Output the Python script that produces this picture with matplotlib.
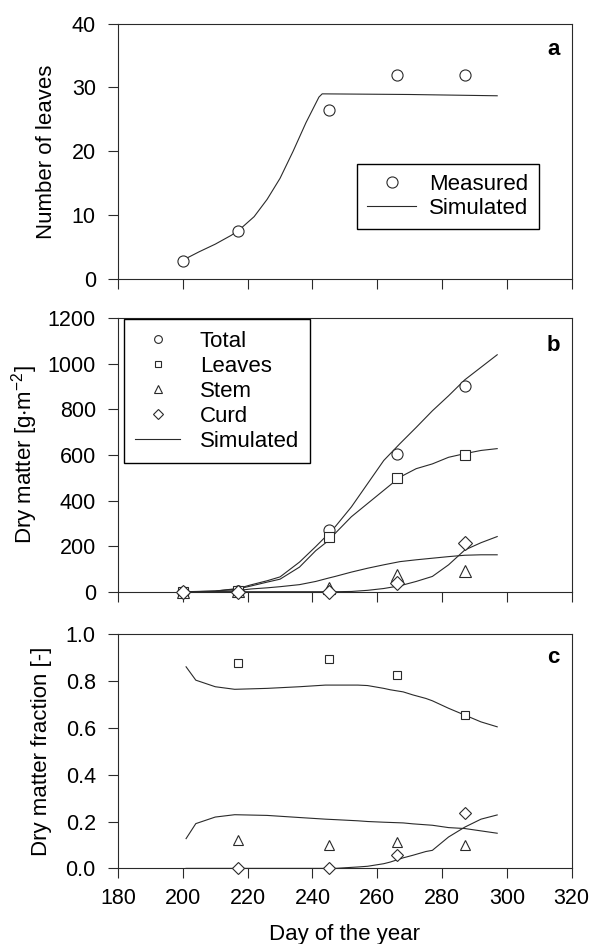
import matplotlib
matplotlib.use("Agg")
import matplotlib.pyplot as plt

plt.rcParams["font.family"] = ["Liberation Sans", "DejaVu Sans"]
plt.rcParams["mathtext.default"] = "regular"

# measurement days
days = [200, 217, 245, 266, 287]

# (a) number of leaves
n_leaves = [2.8, 7.5, 26.5, 32.0, 32.0]
sim_a_days = [200, 205, 210, 215, 218, 222, 226, 230, 234, 238, 242, 243, 270, 297]
sim_a = [3.0, 4.3, 5.5, 6.9, 8.0, 9.8, 12.5, 15.8, 20.0, 24.5, 28.5, 29.0, 28.9, 28.7]

# (b) dry matter, g m-2
dm_total = [0, 5, 270, 605, 905]
dm_leaves = [0, 5, 240, 500, 598]
dm_stem = [0, 5, 15, 74, 92]
dm_curd = [0, 0, 0, 40, 212]
sim_b_days = [200, 205, 210, 217, 221, 226, 230, 236, 241, 245, 247, 252,
              257, 262, 267, 272, 277, 282, 287, 292, 297]
sim_total = [0, 1, 3, 14, 30, 48, 65, 130, 198, 255, 285, 372, 474, 576,
             650, 721, 794, 860, 930, 985, 1040]
sim_leaves = [0, 1, 3, 12, 25, 42, 55, 108, 180, 225, 256, 329, 387, 445,
              503, 540, 561, 590, 606, 620, 628]
sim_stem = [0, 0, 1, 5, 12, 17, 22, 31, 45, 60, 67, 86, 103, 118, 132, 140,
            147, 154, 160, 162, 162]
sim_curd = [0, 0, 0, 0, 0, 0, 0, 0, 0, 0, 0, 1, 6, 14, 26, 45, 67, 118, 183,
            215, 242]

# (c) dry matter fraction
fr_days = [217, 245, 266, 287]
fr_leaves = [0.875, 0.893, 0.825, 0.655]
fr_stem = [0.12, 0.098, 0.112, 0.098]
fr_curd = [0.0, 0.0, 0.056, 0.238]
sim_c_days = [201, 204, 210, 216, 226, 236, 244, 247, 254, 257, 262, 264,
              268, 271, 275, 277, 282, 287, 292, 297]
sim_fl = [0.86, 0.803, 0.775, 0.764, 0.768, 0.775, 0.782, 0.782, 0.782,
          0.78, 0.768, 0.762, 0.753, 0.74, 0.725, 0.715, 0.683, 0.654, 0.625, 0.604]
sim_fs = [0.127, 0.191, 0.219, 0.229, 0.226, 0.217, 0.21, 0.208, 0.203,
          0.2, 0.197, 0.196, 0.194, 0.19, 0.186, 0.184, 0.174, 0.17, 0.16, 0.15]
sim_fc = [0.0, 0.0, 0.0, 0.0, 0.0, 0.0, 0.0, 0.0, 0.006, 0.009, 0.02, 0.027,
          0.045, 0.056, 0.072, 0.077, 0.134, 0.176, 0.21, 0.228]

LC = "#2a2a2a"
TICK_FS = 15.5
LAB_FS = 16

fig = plt.figure(figsize=(5.94, 9.44), dpi=100)
L, W = 0.1987, 0.7638
ax_a = fig.add_axes([L, 0.7041, W, 0.2710])
ax_b = fig.add_axes([L, 0.3732, W, 0.2896])
ax_c = fig.add_axes([L, 0.0801, W, 0.2483])

mk = dict(ls="none", mfc="white", mec=LC, mew=0.8, clip_on=False, zorder=3)

# panel a
ax_a.plot(sim_a_days, sim_a, color=LC, lw=0.8, label="Simulated")
ax_a.plot(days, n_leaves, "o", ms=8, label="Measured", **mk)
ax_a.set_ylim(0, 40)
ax_a.set_yticks([0, 10, 20, 30, 40])
h, l = ax_a.get_legend_handles_labels()
ax_a.legend(h[::-1], l[::-1], loc="upper left", bbox_to_anchor=(0.527, 0.452),
            borderaxespad=0, fancybox=False, edgecolor="black", framealpha=1,
            fontsize=LAB_FS, handlelength=2.2, handletextpad=0.6,
            labelspacing=0.15, borderpad=0.45, numpoints=1)

# panel b
ax_b.plot(days, dm_total, "o", ms=8, label="Total", **mk)
ax_b.plot(days, dm_leaves, "s", ms=7, label="Leaves", **mk)
ax_b.plot(days, dm_stem, "^", ms=8, label="Stem", **mk)
ax_b.plot(days, dm_curd, "D", ms=7, label="Curd", **mk)
ax_b.plot(sim_b_days, sim_total, color=LC, lw=0.8, label="Simulated")
for s in (sim_leaves, sim_stem, sim_curd):
    ax_b.plot(sim_b_days, s, color=LC, lw=0.8)
ax_b.set_ylim(0, 1200)
ax_b.set_yticks(range(0, 1201, 200))
ax_b.legend(loc="upper left", bbox_to_anchor=(0.014, 0.996), borderaxespad=0,
            fancybox=False, edgecolor="black", framealpha=1, fontsize=LAB_FS,
            handlelength=2.0, handletextpad=0.9, labelspacing=0.18,
            borderpad=0.5, markerscale=0.7, numpoints=1)

# panel c
ax_c.plot(sim_c_days, sim_fl, color=LC, lw=0.8)
ax_c.plot(sim_c_days, sim_fs, color=LC, lw=0.8)
ax_c.plot(sim_c_days, sim_fc, color=LC, lw=0.8)
ax_c.plot(fr_days, fr_leaves, "s", ms=6, **mk)
ax_c.plot(fr_days, fr_stem, "^", ms=7.5, **mk)
ax_c.plot(fr_days, fr_curd, "D", ms=6.5, **mk)
ax_c.set_ylim(0, 1.0)
ax_c.set_yticks([0.0, 0.2, 0.4, 0.6, 0.8, 1.0])
ax_c.set_yticklabels([f"{v:.1f}" for v in ax_c.get_yticks()])
ax_c.set_xlabel("Day of the year", fontsize=LAB_FS, labelpad=11)

for ax, tag in ((ax_a, "a"), (ax_b, "b"), (ax_c, "c")):
    ax.set_xlim(180, 320)
    ax.set_xticks(range(180, 321, 20))
    ax.tick_params(direction="out", length=7, width=0.8, labelsize=TICK_FS,
                   color=LC)
    ax.tick_params(axis="y", pad=9)
    ax.tick_params(axis="x", pad=7)
    for sp in ax.spines.values():
        sp.set_linewidth(0.8)
        sp.set_color(LC)
    ax.text(0.96, 0.9, tag, transform=ax.transAxes, ha="center", va="center",
            fontsize=LAB_FS, fontweight="bold")
ax_a.tick_params(labelbottom=False)
ax_b.tick_params(labelbottom=False)

fig.text(0.079, 0.8395, "Number of leaves", rotation=90, ha="center",
         va="center", fontsize=LAB_FS)
fig.text(0.0414, 0.5185, "Dry matter [g$\\cdot$m$^{-2}$]", rotation=90,
         ha="center", va="center", fontsize=LAB_FS)
fig.text(0.0702, 0.2044, "Dry matter fraction [-]", rotation=90, ha="center",
         va="center", fontsize=LAB_FS)

fig.savefig("out.png", dpi=100)
